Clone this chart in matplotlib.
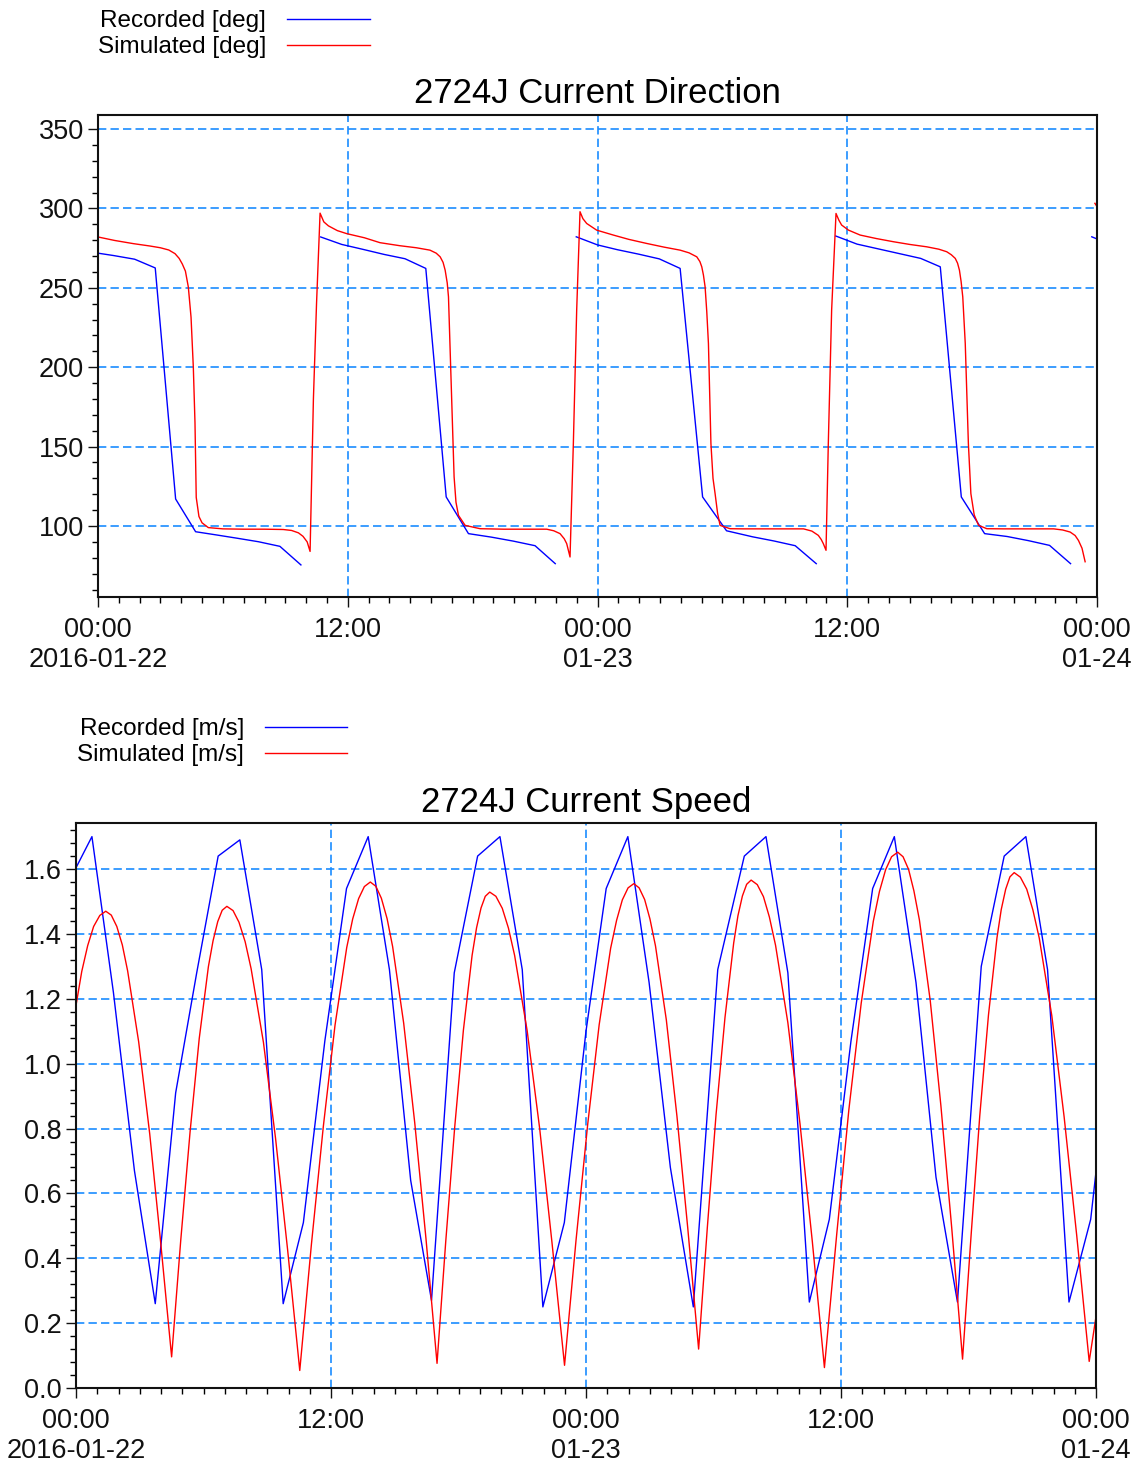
import numpy as np
import pandas as pd
import matplotlib
matplotlib.use("Agg")
import matplotlib.pyplot as plt
import matplotlib.dates as mdates
from matplotlib.lines import Line2D
from matplotlib.ticker import MultipleLocator, FormatStrFormatter

plt.rcParams["font.family"] = ["Liberation Sans", "DejaVu Sans"]

W, H = 1139, 1463
START = pd.Timestamp("2016-01-22 00:00")

# recorded samples, hours after START (same instants for direction and speed)
rec_hours = [-0.5, 0.75, 1.76, 2.75, 3.73, 4.69, 5.68, 6.69, 7.71, 8.74,
             9.75, 10.7, 11.71, 12.73, 13.75, 14.75, 15.75, 16.73, 17.8, 18.9,
             19.95, 21.0, 21.97, 22.98, 24.0, 24.95, 25.97, 26.97, 27.97, 29.05,
             30.2, 31.45, 32.47, 33.5, 34.51, 35.45, 36.47, 37.49, 38.51, 39.53,
             40.47, 41.48, 42.6, 43.68, 44.7, 45.72, 46.73, 47.75, 48.69]
rec_dir = [272.8, 270.3, 268.0, 262.5, 117.0, 96.4, 94.4, 92.3, 90.1, 87.2,
           75.5, 282.0, 277.3, 274.2, 271.0, 268.3, 262.2, 118.3, 95.2, 93.0,
           90.5, 87.6, 76.3, 282.1, 277.0, 274.0, 271.2, 268.2, 262.2, 118.3,
           97.0, 93.2, 90.6, 87.6, 76.3, 282.6, 277.5, 274.5, 271.5, 268.5,
           263.2, 118.3, 95.2, 93.4, 90.8, 87.8, 76.3, 282.1, 277.0]
rec_speed = [1.54, 1.70, 1.22, 0.67, 0.26, 0.91, 1.28, 1.64, 1.69, 1.29,
             0.26, 0.51, 1.07, 1.54, 1.70, 1.29, 0.64, 0.27, 1.28, 1.64,
             1.70, 1.29, 0.25, 0.51, 1.10, 1.54, 1.70, 1.25, 0.68, 0.25,
             1.29, 1.64, 1.70, 1.28, 0.265, 0.52, 1.07, 1.54, 1.70, 1.25,
             0.65, 0.265, 1.30, 1.64, 1.70, 1.29, 0.265, 0.52, 1.07]

# simulated direction
sim_dir_hours = [-0.5, 0.0, 0.8, 1.7, 2.5, 3.0, 3.4, 3.7, 3.9, 4.05, 4.2, 4.34, 4.47, 4.58,
                 4.66, 4.72, 4.85, 5.0, 5.3, 6.0, 7.0, 8.0, 8.9, 9.3, 9.63, 9.85, 10.05,
                 10.19, 10.35, 10.5, 10.67, 10.85, 11.07, 11.5, 11.95, 12.8, 13.55, 14.5,
                 15.3, 15.95, 16.25, 16.44, 16.58, 16.68, 16.78, 16.84, 16.96, 17.04, 17.11,
                 17.2, 17.32, 17.64, 18.36, 19.5, 20.5, 21.56, 21.9, 22.2, 22.4, 22.52,
                 22.68, 22.84, 23.0, 23.16, 23.3, 23.48, 23.96, 24.76, 25.5, 26.37, 27.2,
                 27.97, 28.4, 28.77, 28.92, 29.01, 29.09, 29.17, 29.25, 29.33, 29.45,
                 29.55, 29.65, 29.77, 29.89, 30.37, 31.0, 32.0, 33.0, 33.9, 34.3, 34.61,
                 34.75, 34.85, 34.98, 35.09, 35.25, 35.46, 35.6, 35.73, 36.06, 36.62,
                 37.4, 38.22, 39.0, 39.82, 40.4, 40.78, 41.0, 41.19, 41.3, 41.39, 41.47,
                 41.55, 41.67, 41.82, 41.94, 42.1, 42.31, 42.71, 43.5, 44.5, 45.3, 45.92,
                 46.35, 46.71, 46.95, 47.11, 47.28, 47.43, 47.9, 48.1, 48.4]
sim_dir = [283.5, 282.0, 279.8, 277.8, 276.3, 275.2, 273.8, 271.5, 268.5, 265.0, 260.5, 250.5, 231.5, 200.0,
           165.0, 118.0, 106.0, 102.0, 99.0, 98.2, 98.0, 98.0, 97.8, 97.2, 95.7, 93.5, 90.0,
           84.0, 180.0, 240.0, 297.0, 291.5, 289.0, 286.0, 284.1, 281.5, 278.4, 276.5,
           275.2, 273.7, 271.8, 269.5, 266.0, 261.1, 253.0, 244.3, 193.9, 160.0, 130.9,
           115.0, 106.7, 100.4, 98.3, 98.0, 98.0, 98.0, 97.0, 95.2, 92.0, 88.9,
           80.5, 152.0, 236.0, 297.9, 293.5, 290.5, 286.3, 283.2, 280.5, 277.9, 275.6,
           273.7, 272.0, 269.5, 266.5, 263.2, 258.0, 250.6, 235.0, 214.9, 151.9,
           130.0, 120.4, 108.0, 100.4, 98.3, 98.2, 98.2, 98.2, 98.2, 96.8, 94.1,
           91.5, 88.9, 84.7, 152.0, 236.0, 296.8, 292.5, 289.5, 286.3, 283.2,
           281.0, 279.0, 277.3, 275.8, 274.3, 272.7, 270.8, 268.5, 265.5, 261.1, 254.0,
           244.3, 214.9, 151.9, 120.4, 107.0, 100.4, 98.3, 98.2, 98.2, 98.2, 98.2,
           97.5, 96.2, 94.0, 90.9, 86.0, 77.5, 303.2, 299.0, 293.0]

# simulated speed
sim_speed_hours = [-0.87, -0.3, 0.27, 0.55, 0.83, 1.12, 1.4, 1.66, 1.92, 2.18, 2.43, 2.95,
                   3.47, 3.98, 4.5, 4.93, 5.37, 5.8, 6.23, 6.45, 6.67, 6.88, 7.1, 7.39,
                   7.67, 7.96, 8.24, 8.82, 9.39, 9.96, 10.53, 11.08, 11.64, 12.19, 12.74,
                   13.02, 13.3, 13.57, 13.85, 14.11, 14.37, 14.64, 14.9, 15.42, 15.94,
                   16.47, 16.99, 17.4, 17.82, 18.23, 18.64, 18.85, 19.06, 19.26, 19.47,
                   19.76, 20.06, 20.35, 20.64, 21.23, 21.82, 22.4, 22.99, 23.53, 24.08,
                   24.62, 25.16, 25.44, 25.71, 25.98, 26.25, 26.5, 26.76, 27.01, 27.27,
                   27.78, 28.28, 28.79, 29.3, 29.71, 30.12, 30.54, 30.95, 31.15, 31.36,
                   31.56, 31.77, 32.06, 32.35, 32.63, 32.92, 33.5, 34.07, 34.65, 35.22,
                   35.8, 36.37, 36.95, 37.52, 37.81, 38.1, 38.38, 38.67, 38.92, 39.18,
                   39.43, 39.69, 40.2, 40.7, 41.21, 41.72, 42.13, 42.53, 42.94, 43.34,
                   43.54, 43.75, 43.95, 44.15, 44.44, 44.74, 45.03, 45.33, 45.92, 46.5,
                   47.09, 47.68, 48.0, 48.3]
sim_speed = [0.775, 1.063, 1.284, 1.364, 1.423, 1.457, 1.47, 1.458, 1.423, 1.366, 1.286, 1.067,
             0.783, 0.452, 0.096, 0.456, 0.791, 1.078, 1.299, 1.379, 1.438, 1.473, 1.485, 1.472,
             1.436, 1.376, 1.293, 1.066, 0.770, 0.425, 0.054, 0.444, 0.807, 1.119, 1.358,
             1.446, 1.509, 1.546, 1.56, 1.547, 1.510, 1.447, 1.361, 1.125, 0.818,
             0.460, 0.076, 0.452, 0.803, 1.103, 1.334, 1.419, 1.480, 1.516, 1.529,
             1.516, 1.479, 1.418, 1.334, 1.102, 0.800, 0.448, 0.07, 0.455, 0.813,
             1.120, 1.356, 1.442, 1.505, 1.542, 1.555, 1.542, 1.506, 1.446, 1.363,
             1.135, 0.838, 0.492, 0.12, 0.495, 0.843, 1.142, 1.372, 1.456, 1.517,
             1.553, 1.566, 1.552, 1.515, 1.452, 1.365, 1.126, 0.815, 0.452, 0.063,
             0.475, 0.858, 1.186, 1.439, 1.531, 1.598, 1.638, 1.652, 1.638, 1.599,
             1.533, 1.443, 1.194, 0.871, 0.494, 0.089, 0.478, 0.839, 1.150, 1.388,
             1.475, 1.538, 1.576, 1.589, 1.575, 1.538, 1.474, 1.387, 1.148, 0.836,
             0.472, 0.082, 0.22, 0.40]

x_tick_hours = [0, 12, 24, 36, 48]
x_tick_labels = ["00:00\n2016-01-22", "12:00", "00:00\n01-23", "12:00", "00:00\n01-24"]

BLUE = "#0000ff"
RED = "#ff0000"
GRID = "#1a8cff"


def to_time(hours):
    return START + pd.to_timedelta(np.asarray(hours, dtype=float), unit="h")


def break_wraps(hours, values, limit=180.0):
    # jumps across north are not joined
    h = np.asarray(hours, float)
    v = np.asarray(values, float)
    cut = np.where(np.abs(np.diff(v)) > limit)[0] + 1
    mid = (h[cut - 1] + h[cut]) / 2
    return np.insert(h, cut, mid), np.insert(v, cut, np.nan)


def style_axes(ax, ylim, major, minor, fmt):
    ax.set_xlim(to_time([0, 48]))
    ax.set_ylim(*ylim)
    ax.set_xticks(to_time(x_tick_hours))
    ax.set_xticklabels(x_tick_labels)
    ax.xaxis.set_minor_locator(mdates.HourLocator())
    ax.yaxis.set_major_locator(MultipleLocator(major))
    ax.yaxis.set_minor_locator(MultipleLocator(minor))
    ax.yaxis.set_major_formatter(FormatStrFormatter(fmt))
    ax.tick_params(which="major", direction="out", length=7, width=1.0,
                   labelsize=19.5, pad=3, colors="#111111")
    ax.tick_params(axis="x", which="major", pad=7.3)
    ax.tick_params(which="minor", direction="out", length=4.3, width=1.0)
    ax.grid(which="major", color=GRID, linestyle=(0, (5, 2.5)), linewidth=1.2)
    for s in ax.spines.values():
        s.set_linewidth(1.5)
        s.set_color("#111111")


def add_legend(fig, labels, x_px, y_px):
    handles = [Line2D([], [], color=BLUE, lw=1.0), Line2D([], [], color=RED, lw=1.0)]
    fig.legend(handles, labels, loc="upper left",
               bbox_to_anchor=(x_px / W, 1 - y_px / H),
               frameon=False, markerfirst=False, fontsize=17.5,
               handlelength=3.4, handletextpad=0.85, labelspacing=0.17,
               borderpad=0, borderaxespad=0)


fig = plt.figure(figsize=(W / 100, H / 100), dpi=100)

# direction panel
ax1 = fig.add_axes([98 / W, 1 - 597 / H, (1097 - 98) / W, (597 - 115) / H])
h, v = break_wraps(rec_hours, rec_dir)
ax1.plot(to_time(h), v, color=BLUE, lw=1.0)
h, v = break_wraps(sim_dir_hours, sim_dir)
ax1.plot(to_time(h), v, color=RED, lw=1.0)
style_axes(ax1, (55.3, 358.8), 50, 10, "%d")
ax1.set_title("2724J Current Direction", fontsize=25, pad=8.8)
add_legend(fig, ["Recorded [deg]", "Simulated [deg]"], 98, 10)

# speed panel
ax2 = fig.add_axes([76 / W, 1 - 1388 / H, (1096 - 76) / W, (1388 - 823) / H])
ax2.plot(to_time(rec_hours), rec_speed, color=BLUE, lw=1.0)
ax2.plot(to_time(sim_speed_hours), sim_speed, color=RED, lw=1.0)
style_axes(ax2, (0.0, 1.742), 0.2, 0.04, "%.1f")
ax2.set_title("2724J Current Speed", fontsize=25, pad=8.2)
add_legend(fig, ["Recorded [m/s]", "Simulated [m/s]"], 77, 718)

fig.savefig("out.png", dpi=100)
